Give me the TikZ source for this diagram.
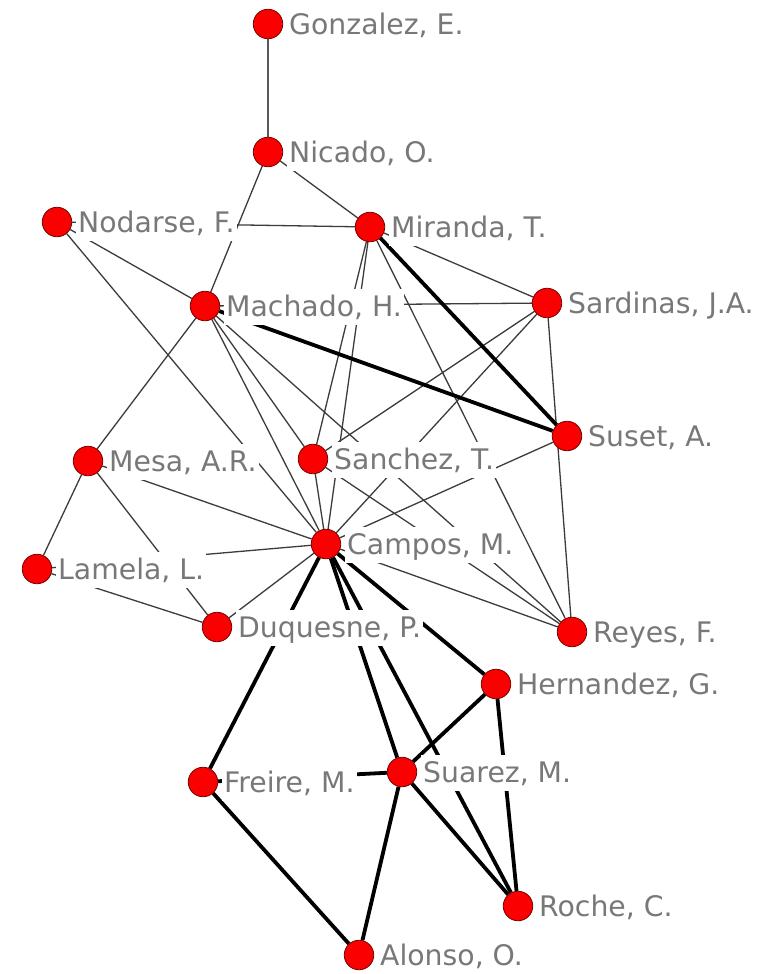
\documentclass[tikz,border=0pt]{standalone}
\usepackage{fontspec}
\setmainfont{DejaVu Sans}
\pgfdeclarelayer{bg}
\pgfdeclarelayer{paper}
\pgfsetlayers{paper,bg,main}
\definecolor{dotred}{RGB}{250,0,0}
\definecolor{dotrim}{RGB}{120,0,0}
\definecolor{labgray}{RGB}{120,120,120}
\definecolor{thinline}{RGB}{60,60,60}
\tikzset{
  dot/.style={circle,fill=dotred,draw=dotrim,line width=0.8pt,minimum size=29.5pt,inner sep=0pt},
  lab/.style={fill=white,text=labgray,inner xsep=2pt,inner ysep=3pt,text height=24pt,text depth=6pt,
    font=\fontsize{28.3}{30}\selectfont,anchor=base west},
  edge/.style={draw=thinline,line width=1.3pt},
  mid/.style={draw=black!65,line width=1.8pt},
  strong/.style={draw=black,line width=3.8pt}
}
\newcommand\gnode[5][]{%
  \node[dot] (#2) at (#3,#4) {};
  \node[lab,#1] (#2-l) at (#3+19,#4+10.4) {#5};
}
\begin{document}
\begin{tikzpicture}[x=1pt,y=-1pt]
\useasboundingbox (0,0) rectangle (778,974);
\begin{pgfonlayer}{paper}
\fill[white] (0,0) rectangle (778,974);
\end{pgfonlayer}
\gnode{gon}{268}{24}{Gonzalez, E.}
\gnode{nic}{268}{152}{Nicado, O.}
\gnode{nod}{57}{222}{Nodarse, F.}
\gnode{mir}{370}{227}{Miranda, T.}
\gnode{mac}{205}{306}{Machado, H.}
\gnode{sar}{547}{303}{Sardinas, J.A.}
\gnode{sus}{567}{436}{Suset, A.}
\gnode{mes}{88}{461}{Mesa, A.R.}
\gnode{san}{313}{459}{Sanchez, T.}
\gnode{cam}{326}{544}{Campos, M.}
\gnode{lam}{37}{569}{Lamela, L.}
\gnode{duq}{217}{627}{Duquesne, P.}
\gnode{rey}{572}{632}{Reyes, F.}
\gnode{her}{496}{684}{Hernandez, G.}
\gnode{fre}{203}{782}{Freire, M.}
\gnode{sua}{402}{772}{Suarez, M.}
\gnode{roc}{518}{906}{Roche, C.}
\gnode[text depth=0pt,inner ysep=2pt]{alo}{359}{955}{Alonso, O.}
\begin{pgfonlayer}{bg}
\draw[mid] (gon) -- (nic);
\foreach \a/\b in {nic/mac,nic/mir,nod/mir,nod/mac,nod/cam,mac/mes,mac/cam,mac/san,mac/rey,mac/sar,
  mir/sar,mir/san,mir/cam,mir/rey,sar/san,sar/cam,sar/rey,sus/cam,san/rey,san/cam,cam/rey,
  mes/cam,mes/duq,mes/lam,lam/cam,lam/duq,duq/cam}
  \draw[edge] (\a) -- (\b);
\foreach \a/\b in {mac/sus,mir/sus,cam/fre,cam/sua,cam/her,cam/roc,her/sua,her/roc,sua/roc,
  sua/fre,sua/alo,fre/alo}
  \draw[strong] (\a) -- (\b);
\end{pgfonlayer}
\end{tikzpicture}
\end{document}
